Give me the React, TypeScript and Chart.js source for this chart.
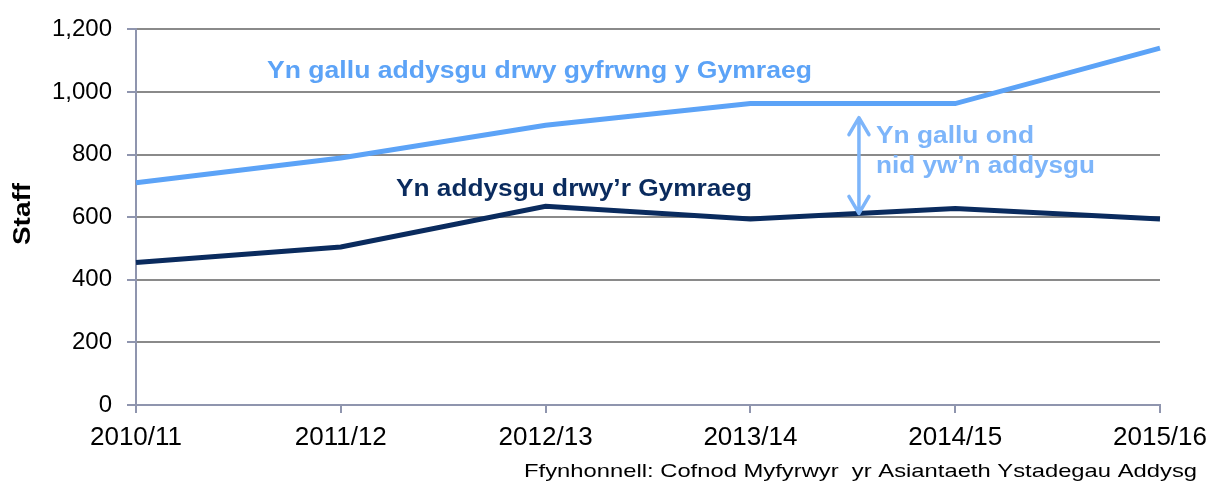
import React, { useEffect, useRef } from "react";
import { Chart, registerables } from "chart.js";

Chart.register(...registerables);

const categories = ["2010/11", "2011/12", "2012/13", "2013/14", "2014/15", "2015/16"];
const ableToTeach = [710, 789, 894, 963, 963, 1140];
const teaching = [455, 505, 635, 594, 628, 594];
const yTicks = [0, 200, 400, 600, 800, 1000, 1200];
const labelAble = "Yn gallu addysgu drwy gyfrwng y Gymraeg";
const labelTeaching = "Yn addysgu drwy\u2019r Gymraeg";
const gapLines = ["Yn gallu ond", "nid yw\u2019n addysgu"];
const yTitle = "Staff";
const sourceText = "Ffynhonnell: Cofnod Myfyrwyr  yr Asiantaeth Ystadegau Addysg";

const LIGHT = "#5CA3F7";
const DARK = "#0A2B5E";
const PALE = "#7DB5FA";
const AXIS = "#8F95AE";
const GRID = "#8A8A8A";
const FONT = "'Liberation Sans', Arial, sans-serif";

function drawFit(ctx: any, text: string, left: number, cy: number, width: number) {
  const w = ctx.measureText(text).width;
  ctx.save();
  ctx.translate(left, cy);
  ctx.scale(width / w, 1);
  ctx.textAlign = "left";
  ctx.textBaseline = "middle";
  ctx.fillText(text, 0, 0);
  ctx.restore();
}

const annotations = {
  id: "annotations",
  afterDatasetsDraw(chart: any) {
    const { ctx, scales } = chart;
    const x = scales.x;
    const y = scales.y;
    ctx.save();
    ctx.font = `bold 23px ${FONT}`;
    ctx.fillStyle = LIGHT;
    drawFit(ctx, labelAble, 267, 72, 545);
    ctx.fillStyle = DARK;
    drawFit(ctx, labelTeaching, 396, 190, 356);
    // gap arrow
    const ax = x.getPixelForValue(3) + (x.getPixelForValue(4) - x.getPixelForValue(3)) * 0.53;
    const yTop = y.getPixelForValue(918);
    const yBot = y.getPixelForValue(612);
    ctx.strokeStyle = PALE;
    ctx.lineWidth = 3.5;
    ctx.lineCap = "round";
    ctx.lineJoin = "round";
    ctx.beginPath();
    ctx.moveTo(ax, yTop);
    ctx.lineTo(ax, yBot);
    ctx.moveTo(ax - 10, yTop + 17);
    ctx.lineTo(ax, yTop);
    ctx.lineTo(ax + 10, yTop + 17);
    ctx.moveTo(ax - 10, yBot - 17);
    ctx.lineTo(ax, yBot);
    ctx.lineTo(ax + 10, yBot - 17);
    ctx.stroke();
    ctx.fillStyle = PALE;
    ctx.font = `bold 23px ${FONT}`;
    drawFit(ctx, gapLines[0], 876, 137, 158);
    drawFit(ctx, gapLines[1], 876, 167, 219);
    // y title
    ctx.save();
    ctx.translate(23, 214);
    ctx.rotate(-Math.PI / 2);
    ctx.fillStyle = "#000";
    ctx.font = `bold 24px ${FONT}`;
    drawFit(ctx, yTitle, -31, 0, 62);
    ctx.restore();
    // source
    ctx.font = `19px ${FONT}`;
    ctx.fillStyle = "#000";
    drawFit(ctx, sourceText, 524, 472, 673);
    ctx.restore();
  },
};

export default function App() {
  const ref = useRef<HTMLCanvasElement>(null);
  useEffect(() => {
    if (!ref.current) return;
    const chart = new Chart(ref.current, {
      type: "line",
      data: {
        labels: categories,
        datasets: [
          {
            label: labelAble,
            data: ableToTeach,
            borderColor: LIGHT,
            borderWidth: 5,
            pointRadius: 0,
            tension: 0,
          },
          {
            label: labelTeaching,
            data: teaching,
            borderColor: DARK,
            borderWidth: 5,
            pointRadius: 0,
            tension: 0,
          },
        ],
      },
      options: {
        responsive: false,
        animation: false,
        layout: { padding: { top: 18, right: 51, left: 0, bottom: 0 } },
        plugins: { legend: { display: false }, tooltip: { enabled: false } },
        scales: {
          x: {
            offset: false,
            grid: {
              drawOnChartArea: false,
              drawTicks: true,
              tickLength: 8,
              tickColor: AXIS,
              lineWidth: 2,
            },
            border: { color: AXIS, width: 2 },
            ticks: {
              color: "#000",
              font: { family: FONT, size: 26 },
              padding: 9,
              maxRotation: 0,
              autoSkip: false,
            },
            afterFit(s: any) {
              s.height = 83;
              s.paddingRight = 0;
              s.paddingLeft = 0;
            },
          },
          y: {
            min: 0,
            max: 1200,
            afterBuildTicks(s: any) {
              s.ticks = yTicks.map((v) => ({ value: v }));
            },
            grid: {
              color: GRID,
              lineWidth: 2,
              tickLength: 9,
              tickColor: AXIS,
            },
            border: { color: AXIS, width: 2 },
            ticks: {
              color: "#000",
              font: { family: FONT, size: 24 },
              padding: 15,
              callback: (v: any) => Number(v).toLocaleString("en-US"),
            },
            afterFit(s: any) {
              s.width = 136;
            },
          },
        },
      },
      plugins: [annotations],
    });
    return () => chart.destroy();
  }, []);
  return (
    <div style={{ position: "absolute", left: 0, top: 0, width: 1211, height: 488, background: "#fff" }}>
      <canvas ref={ref} width={1211} height={488} />
    </div>
  );
}
